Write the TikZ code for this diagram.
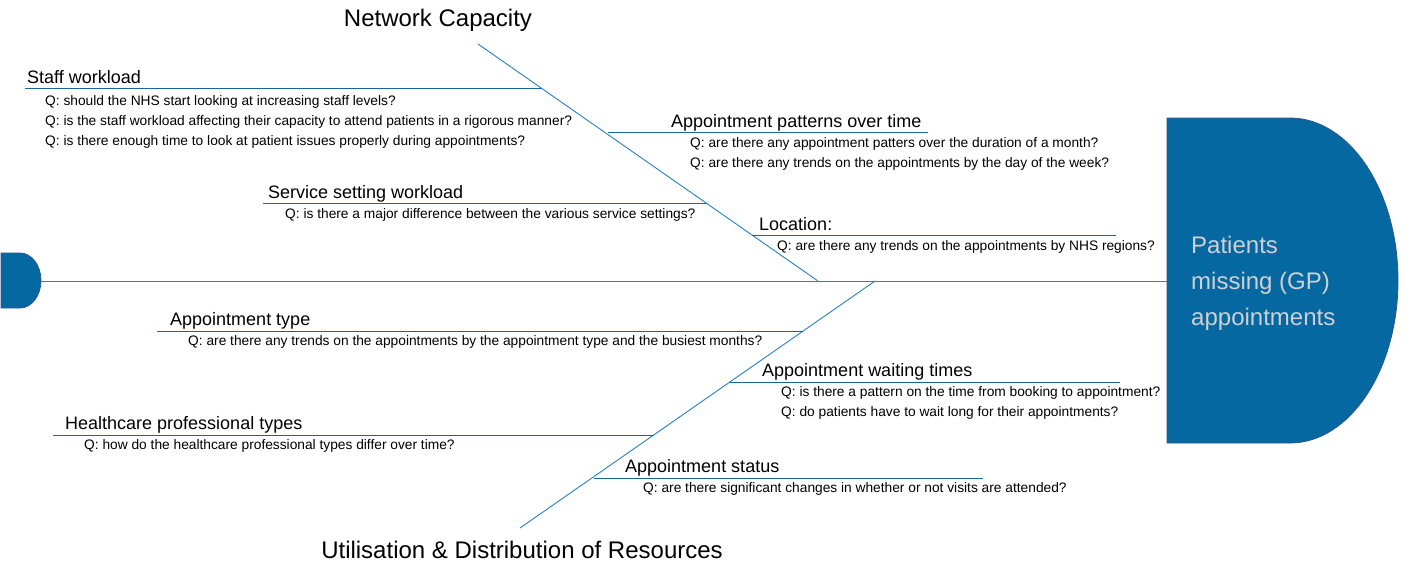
\documentclass[tikz,border=0pt]{standalone}
\usepackage{fontspec}
\setmainfont{Liberation Sans}
\definecolor{bone}{RGB}{38,128,190}
\definecolor{sub}{RGB}{22,104,156}
\definecolor{headfill}{RGB}{5,104,161}
\definecolor{headedge}{RGB}{47,84,150}
\definecolor{headtext}{RGB}{205,208,212}
\tikzset{
  bonestyle/.style={draw=bone, line width=0.9pt},
  substyle/.style={draw=sub, line width=0.9pt},
  cattitle/.style={anchor=base, inner sep=0pt, font=\fontsize{24}{28}\selectfont},
  heading/.style={anchor=base west, inner sep=0pt, font=\fontsize{18}{22}\selectfont},
  qtext/.style={anchor=base west, inner sep=0pt, align=left, font=\fontsize{13.75}{20}\selectfont},
}
\begin{document}
\begin{tikzpicture}[x=1pt,y=-1pt]
\useasboundingbox (0,0) rectangle (1407,573);
% head
\draw[fill=headfill, draw=headedge, line width=0.8pt]
  (1167,118) -- (1290,118) arc[start angle=-90, end angle=90, x radius=108, y radius=162.5]
  -- (1167,443) -- cycle;
\coordinate (headW) at (1167,281);
\node[anchor=base west, inner sep=0pt, align=left, text=headtext,
  font=\fontsize{24}{36}\selectfont] (head) at (1191,325)
  {Patients\\missing (GP)\\appointments};
% tail
\draw[fill=headfill, draw=headedge, line width=0.8pt]
  (1,253) -- (20,253) arc[start angle=-90, end angle=90, x radius=21, y radius=27.5]
  -- (1,308) -- cycle;
\coordinate (tailE) at (41,281);
% spine
\draw[bonestyle] (tailE) -- (headW);
% main bones
\coordinate (ncTop) at (478,44);
\coordinate (ncEnd) at (818,281);
\coordinate (udBot) at (520,528);
\coordinate (udEnd) at (875,281);
\draw[bonestyle] (ncTop) -- (ncEnd);
\draw[bonestyle] (udEnd) -- (udBot);
\node[cattitle] (nc) at (438,26) {Network Capacity};
\node[cattitle] (ud) at (522,558) {Utilisation \& Distribution of Resources};

% sub-bones upper
\coordinate (swL) at (25,88);   \coordinate (swR) at (541,88);
\coordinate (ssL) at (263,203); \coordinate (ssR) at (706,203);
\coordinate (apL) at (608,132); \coordinate (apR) at (928,132);
\coordinate (loL) at (752,235); \coordinate (loR) at (1116,235);
\draw[substyle] (swL) -- (swR);
\draw[substyle] (ssL) -- (ssR);
\draw[substyle] (apL) -- (apR);
\draw[substyle] (loL) -- (loR);
% sub-bones lower
\coordinate (atL) at (157,331); \coordinate (atR) at (803,331);
\coordinate (hpL) at (53,435);  \coordinate (hpR) at (654,435);
\coordinate (awL) at (730,382); \coordinate (awR) at (1120,382);
\coordinate (asL) at (594,478); \coordinate (asR) at (983,478);
\draw[substyle] (atL) -- (atR);
\draw[substyle] (hpL) -- (hpR);
\draw[substyle] (awL) -- (awR);
\draw[substyle] (asL) -- (asR);

% labels (multi-line nodes: base = baseline of last line)
\node[heading] (swH) at (27,83) {Staff workload};
\node[qtext] (swQ) at (45,145.5) {Q: should the NHS start looking at increasing staff levels?\\
Q: is the staff workload affecting their capacity to attend patients in a rigorous manner?\\
Q: is there enough time to look at patient issues properly during appointments?};

\node[heading] (ssH) at (268,198) {Service setting workload};
\node[qtext] (ssQ) at (285,218.5) {Q: is there a major difference between the various service settings?};

\node[heading] (apH) at (671,127.5) {Appointment patterns over time};
\node[qtext] (apQ) at (690,167.5) {Q: are there any appointment patters over the duration of a month?\\
Q: are there any trends on the appointments by the day of the week?};

\node[heading] (loH) at (759,230) {Location:};
\node[qtext] (loQ) at (777,250.5) {Q: are there any trends on the appointments by NHS regions?};

\node[heading] (atH) at (170,325.5) {Appointment type};
\node[qtext] (atQ) at (188,345.5) {Q: are there any trends on the appointments by the appointment type and the busiest months?};

\node[heading] (awH) at (762,376.5) {Appointment waiting times};
\node[qtext] (awQ) at (781,416.5) {Q: is there a pattern on the time from booking to appointment?\\
Q: do patients have to wait long for their appointments?};

\node[heading] (hpH) at (65,429) {Healthcare professional types};
\node[qtext] (hpQ) at (84,449.5) {Q: how do the healthcare professional types differ over time?};

\node[heading] (asH) at (625,472.5) {Appointment status};
\node[qtext] (asQ) at (643,492.5) {Q: are there significant changes in whether or not visits are attended?};
\end{tikzpicture}
\end{document}
